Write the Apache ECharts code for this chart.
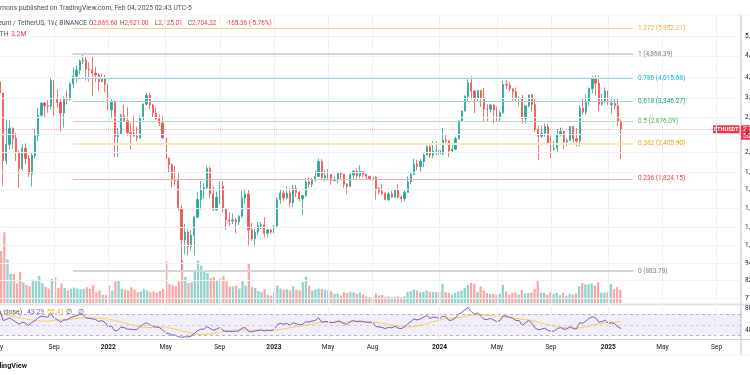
<!DOCTYPE html>
<html><head><meta charset="utf-8">
<script src="https://cdn.jsdelivr.net/npm/echarts@6/dist/echarts.min.js"></script>
<style>html,body{margin:0;padding:0;background:#fff}#c{width:750px;height:375px}</style>
</head><body><div id="c"></div>
<script>
// ---------- DATA ----------
const firstWeek = '2021-05-10';           // Monday of first weekly candle
// weekly candles [open, high, low, close]
const ohlc2021 = [
[3910,4372,3300,3580],[3580,3590,1728,2100],[2100,2911,2050,2390],[2390,2890,2300,2710],[2710,2740,2310,2510],
[2510,2620,2100,2250],[2250,2280,1700,1980],[1980,2400,1950,2320],[2320,2410,2040,2140],[2140,2200,1850,1900],
[1900,2250,1720,2190],[2190,2700,2150,2560],[2560,3180,2450,3010],[3010,3330,2980,3310],[3310,3340,2950,3240],
[3240,3380,3070,3230],[3230,4030,3150,3950],[3950,3970,3000,3410],[3410,3680,3200,3330],[3330,3440,2650,3060],
[3060,3490,2730,3420],[3420,3660,3270,3410],[3410,3900,3370,3850],[3850,4380,3720,4090],[4090,4460,3900,4290],
[4290,4670,4150,4610],[4610,4868,4500,4640],[4640,4770,3950,4320],[4320,4560,3920,4300],[4300,4780,3500,4190],
[4190,4400,3900,4130],[4130,4200,3640,3920],[3920,4180,3900,4060],[4060,4130,3600,3830]];
const ohlc2022 = [
[3830,3900,2930,3140],[3140,3410,2930,3330],[3330,3380,2160,2540],[2540,2720,2160,2600],[2600,3050,2580,3000],
[3000,3280,2850,2880],[2880,3200,2560,2620],[2620,2830,2300,2610],[2610,3000,2550,2550],[2550,2750,2450,2520],
[2520,3000,2500,2950],[2950,3300,2900,3280],[3280,3580,3250,3520],[3520,3580,3150,3260],[3260,3290,2950,3060],
[3060,3190,2900,2920],[2920,3030,2760,2830],[2830,3000,2500,2520],[2520,2530,1700,2140],[2140,2160,1910,2040],
[2040,2060,1700,1810],[1810,2020,1730,1800],[1800,1920,1420,1450],[1450,1480,880,1130],[1130,1280,1010,1200],
[1200,1230,1000,1070],[1070,1220,1040,1170],[1170,1360,1000,1350],[1350,1650,1340,1550],[1550,1790,1430,1680],
[1680,1760,1560,1700],[1700,2030,1680,1980],[1980,2010,1570,1620],[1620,1720,1420,1430],[1430,1650,1420,1580],
[1580,1790,1500,1720],[1720,1790,1400,1440],[1440,1450,1220,1320],[1320,1400,1260,1310],[1310,1390,1280,1320],
[1320,1340,1190,1300],[1300,1370,1270,1360],[1360,1660,1340,1570],[1570,1680,1500,1620],[1620,1680,1070,1220],
[1220,1290,1120,1140],[1140,1230,1070,1200],[1200,1300,1170,1260],[1260,1300,1230,1270],[1270,1350,1150,1190],
[1190,1230,1150,1220],[1220,1230,1180,1200]];
const ohlc2023 = [
[1200,1270,1190,1260],[1260,1580,1250,1550],[1550,1680,1500,1630],[1630,1670,1530,1570],[1570,1720,1550,1630],
[1630,1690,1460,1510],[1510,1740,1460,1690],[1690,1740,1580,1640],[1640,1660,1530,1560],[1560,1570,1370,1600],
[1600,1840,1580,1780],[1780,1850,1700,1750],[1750,1840,1710,1810],[1810,1950,1780,1860],[1860,2140,1850,2090],
[2090,2130,1810,1840],[1840,1960,1790,1870],[1870,1970,1800,1890],[1890,1890,1740,1800],[1800,1860,1790,1810],
[1810,1930,1760,1910],[1910,1930,1830,1890],[1890,1900,1700,1750],[1750,1760,1620,1720],[1720,1930,1710,1880],
[1880,1950,1820,1940],[1940,1980,1820,1870],[1870,2030,1830,1930],[1930,1940,1850,1890],[1890,1900,1820,1860],
[1860,1870,1820,1830],[1830,1860,1820,1850],[1850,1860,1550,1690],[1690,1710,1620,1650],[1650,1750,1610,1630],
[1630,1650,1540,1550],[1550,1650,1530,1620],[1620,1660,1570,1580],[1580,1680,1570,1670],[1670,1750,1560,1580],
[1580,1600,1520,1560],[1560,1680,1530,1640],[1640,1860,1640,1780],[1780,1910,1750,1890],[1890,2140,1880,2050],
[2050,2120,1950,2010],[2010,2130,1930,2090],[2090,2230,2000,2200],[2200,2400,2200,2350],[2350,2380,2150,2200],
[2200,2450,2150,2270],[2270,2450,2200,2280]];
const ohlc2024 = [
[2280,2410,2100,2220],[2220,2720,2200,2470],[2470,2600,2420,2460],[2460,2470,2160,2270],[2270,2390,2240,2300],
[2300,2540,2280,2500],[2500,2890,2480,2880],[2880,3130,2860,3110],[3110,3520,3100,3490],[3490,3990,3350,3880],
[3880,4093,3400,3640],[3640,3650,3060,3450],[3450,3680,3350,3650],[3650,3660,3210,3450],[3450,3730,2850,3160],
[3160,3280,2860,3150],[3150,3290,3070,3260],[3260,3290,2820,3130],[3130,3220,2860,2940],[2940,3130,2860,3070],
[3070,3950,3050,3830],[3830,3970,3680,3810],[3810,3890,3620,3700],[3700,3720,3360,3620],[3620,3740,3360,3420],
[3420,3490,3240,3440],[3440,3530,2810,2930],[2930,3250,2820,3240],[3240,3540,3200,3530],[3530,3560,3090,3270],
[3270,3400,2630,2690],[2690,2770,2110,2550],[2550,2780,2510,2610],[2610,2820,2540,2750],[2750,2820,2420,2430],
[2430,2560,2150,2300],[2300,2460,2270,2320],[2320,2700,2260,2580],[2580,2730,2550,2650],[2650,2670,2310,2440],
[2440,2510,2350,2470],[2470,2760,2460,2750],[2750,2770,2430,2500],[2500,2720,2360,2460],[2460,3250,2350,3180],
[3180,3450,3020,3080],[3080,3550,3020,3360],[3360,3740,3250,3710],[3710,4090,3580,4000],[4000,4110,3520,3870],
[3870,4110,3100,3280],[3280,3550,3250,3350],[3350,3750,3310,3640]];
const ohlc2025 = [
[3640,3740,3150,3270],[3270,3470,3050,3300],[3300,3450,3150,3240],[3240,3440,2760,2869.68],[2869.68,2921.00,2125.01,2704.32]];

// weekly volume, millions of ETH
const vol2021 = [12.5,17.0,10.5,7.0,7.0,4.7,7.5,5.0,4.3,4.0,5.6,5.2,6.5,4.8,3.9,3.5,5.8,6.2,3.6,4.7,3.6,3.0,3.4,3.7,3.5,3.3,3.4,3.8,3.4,4.4,2.6,3.0,2.0,1.9];
const vol2022 = [4.2,3.0,5.2,5.5,3.4,3.2,3.0,3.8,3.2,2.6,2.8,3.3,3.0,2.6,2.8,2.5,2.9,3.4,10.0,4.5,4.3,4.0,5.2,10.4,6.3,4.8,5.0,7.8,10.2,9.0,7.5,7.2,6.0,6.3,5.5,6.0,6.5,5.2,4.0,4.0,4.2,3.5,5.5,4.2,9.5,3.8,3.6,2.9,2.6,3.3,2.0,1.8];
const vol2023 = [2.5,4.2,3.5,3.2,3.3,3.0,4.0,3.2,3.0,5.0,6.3,4.2,3.0,3.3,3.5,3.4,3.2,3.0,2.8,2.2,2.2,1.8,2.6,2.4,2.7,2.6,2.2,2.5,2.0,1.6,1.4,1.3,2.3,1.8,1.9,1.5,1.6,1.4,1.5,1.6,1.4,1.6,2.7,2.8,3.2,3.0,2.6,2.7,3.0,2.7,2.6,2.6];
const vol2024 = [2.7,4.6,2.6,2.4,2.0,2.4,2.8,3.0,3.6,4.4,4.8,4.6,2.7,4.0,3.0,2.4,2.2,2.2,2.0,2.3,4.4,2.8,2.0,2.4,2.5,2.0,3.1,2.3,2.4,2.5,3.4,5.5,2.5,2.4,2.0,2.6,2.2,2.4,1.9,2.4,1.8,2.2,2.0,2.3,4.0,4.8,4.5,4.5,4.7,4.2,5.0,2.5,2.5];
const vol2025 = [2.6,4.6,3.4,3.8,3.2];

const rsi2021 = [76,58,60,63,59,55,51,55,53,49,54,58,63,66,65,64,71,62,60,55,59,59,63,65,67,69,69,63,62,61,60,56,58,54];
const rsi2022 = [46,48,39,40,46,45,42,42,41,41,47,51,54,50,48,46,45,41,35,34,31,31,28,27,28,27.5,29.5,34,39,42,42,47,43,40,42,45,40,38,38,38,38,39,44,45,38,37,38.5,40,40.5,39,40,39.5];
const rsi2023 = [41,50,53,51,53,49,54,52,50,51,56,55,57,58,63,55,56,56,54,54.5,57,56,52,51,56,58,56,57,56,55,54.5,55,47,46,45,43,45.5,44.5,47.5,44,43,46,52,56,61,59,61,64,67,62,64,64];
const rsi2024 = [61,66,65,58,59,63,70,73,78,82,74,70,72,66,60,60,62,59,56,58,67,66,64,62,58,58,49,54,58,53,44,41,42,44,40,38,38.5,43,45,42,42.5,47,43,42.5,54,53,57,62,65,63,55,56,59];
const rsi2025 = [53,53.5,52.5,46,43.29];
const ma2021 = [70,69,68,67,66,65,63,62,61,60,59,58,57.5,57,57,57,57.5,58,58.5,59,59.5,60,60.5,61,61.5,62,62.5,63,63,63,63,62.5,62,61.5];
const ma2022 = [60.5,59.5,58,56.5,55,53.5,52,50.5,49,47.5,46.5,45.5,45,45,45,45.5,46,46,45.5,44.5,43.5,42,40.5,39,37.5,36,34.5,33.5,33,32.5,32.5,33,33.5,34.5,35.5,36.5,37.5,38.5,39.5,40,40.5,40.5,40.5,40.5,40.5,40,40,40,40,40,40,40];
const ma2023 = [40,40.5,41.5,42.5,43.5,44.5,45.5,46.5,47.5,48.5,49.5,50.5,51.5,52.5,53.5,54,54.5,54.5,54.5,54.5,55,55,55,55,55,55.5,55.5,55.5,55.5,55.5,55.5,55,54.5,54,53,52,51,50,49,48,47.5,47,46.5,46.5,47,48,49.5,51,52.5,54,55.5,57];
const ma2024 = [58.5,60,61.5,62,62.5,63,64,65,66,67,67.5,68,68.5,68.5,68,67.5,67,66.5,66,65,64.5,64,63.5,63,62,61,60,59.5,59,58,56.5,55,53.5,52,50.5,49,47.5,46.5,46,45.5,45,44.5,44,44,44.5,45.5,46.5,48,49.5,51,52,53,54];
const ma2025 = [54.5,55,55.3,55.4,55.41];

// Fibonacci retracement drawing
const fibRatios = ['1.272','1','0.786','0.618','0.5','0.382','0.236','0'];
const fibPrices = [5952.21,4868.39,4015.68,3346.27,2876.09,2405.90,1824.15,883.78];
const fibSpan = ['2021-10-17','2025-03-01'];

// axis tick labels
const priceTicks = [5600,4800,4050,3450,2950,2600,2250,1925,1675,1450,1250,1080,940,820,715];
const monthLabels = ['May','Sep','2022','May','Sep','2023','May','Aug','2024','May','Sep','2025','May','Sep'];
const monthDates = ['2021-05-03','2021-09-06','2022-01-03','2022-05-09','2022-09-05','2023-01-02','2023-05-01','2023-08-07','2024-01-01','2024-05-06','2024-09-02','2025-01-06','2025-05-05','2025-09-01'];
const rsiTicks = [80,40];

// ---------- BUILD ----------
const DAY = 86400000;
const t0 = Date.parse(firstWeek + 'T00:00:00Z');
const ohlc = [].concat(ohlc2021, ohlc2022, ohlc2023, ohlc2024, ohlc2025);
const volume = [].concat(vol2021, vol2022, vol2023, vol2024, vol2025);
const rsi = [].concat(rsi2021, rsi2022, rsi2023, rsi2024, rsi2025);
const rsiMa = [].concat(ma2021, ma2022, ma2023, ma2024, ma2025);
const weeks = ohlc.map((_, i) => t0 + i * 7 * DAY);
const ts = s => Date.parse(s + 'T00:00:00Z');

const PX_PER_DAY = 3.185 / 7;
const GRID_W = 741;
const xMin = t0, xMax = t0 + GRID_W / PX_PER_DAY * DAY;

const UP = '#26A69A', DOWN = '#EF5350';
const FONT = 'Roboto, "Noto Sans", sans-serif';
const last = ohlc[ohlc.length - 1];
const lastClose = last[3];

const fibLine = ['#FFCF85','#D3D5DA','#8FDCE8','#A3D8CD','#B3DDB4','#FFE6C2','#F8ABB1','#D3D5DA'];
const fibWidth = [1,2,1,1,1,2,1,2];
const fibText = ['#F7A93B','#787B86','#00BCD4','#089981','#4CAF50','#FF9800','#F23645','#787B86'];
const fmt = v => v.toLocaleString('en-US', {minimumFractionDigits: 2, maximumFractionDigits: 2});

const chart = echarts.init(document.getElementById('c'), null, {renderer: 'canvas'});

const xAx = gi => ({gridIndex: gi, type: 'time', min: xMin, max: xMax, show: false});

const vGrid = monthDates.map(d => ({xAxis: ts(d), label: {show: false}}));

chart.setOption({
  animation: false,
  backgroundColor: '#ffffff',
  grid: [
    {left: 0, top: 15, width: GRID_W, height: 290},
    {left: 0, top: 200, width: GRID_W, height: 103},
    {left: 0, top: 305, width: GRID_W, height: 34}
  ],
  xAxis: [xAx(0), xAx(1), xAx(2)],
  yAxis: [
    {gridIndex: 0, type: 'log', min: 676.6, max: 6615, show: false},
    {gridIndex: 1, type: 'value', min: 0, max: 24.76, show: false},
    {gridIndex: 2, type: 'value', min: 23.9, max: 86.6, show: false}
  ],
  series: [
    { // price-pane grid + right scale labels
      type: 'line', xAxisIndex: 0, yAxisIndex: 0, data: [], z: 0,
      markLine: {
        silent: true, symbol: ['none','none'], animation: false,
        lineStyle: {color: '#EFF1F5', width: 1, type: 'solid'},
        label: {show: false},
        data: priceTicks.map(p => ({yAxis: p, label: {show: true, position: 'end', distance: 4,
          formatter: () => fmt(p), color: '#131722', fontSize: 6.5, fontFamily: FONT}})).concat(vGrid)
      }
    },
    {
      type: 'bar', xAxisIndex: 1, yAxisIndex: 1, barWidth: 2.3, z: 1,
      data: weeks.map((t, i) => ({value: [t, volume[i]],
        itemStyle: {color: ohlc[i][3] >= ohlc[i][0] ? 'rgba(38,166,154,0.5)' : 'rgba(239,83,80,0.5)'}}))
    },
    {
      type: 'candlestick', xAxisIndex: 0, yAxisIndex: 0, barWidth: 1.7, z: 3,
      itemStyle: {color: UP, color0: DOWN, borderColor: UP, borderColor0: DOWN, borderWidth: 0.8},
      data: weeks.map((t, i) => [t, ohlc[i][0], ohlc[i][3], ohlc[i][2], ohlc[i][1]]),
      markLine: {
        silent: true, symbol: ['none','none'], animation: false,
        data: fibPrices.map((p, k) => [
          {coord: [ts(fibSpan[0]), p],
           lineStyle: {color: fibLine[k], width: fibWidth[k], type: 'solid'},
           label: {show: true, position: 'end', distance: 5, color: fibText[k], fontSize: 6.5, fontFamily: FONT,
                   formatter: () => fibRatios[k] + ' (' + fmt(p) + ')'}},
          {coord: [ts(fibSpan[1]), p]}
        ]).concat([{yAxis: lastClose, lineStyle: {color: 'rgba(242,54,69,0.4)', width: 1, type: 'dotted'}, label: {show: false}}])
      }
    },
    {
      type: 'line', xAxisIndex: 2, yAxisIndex: 2, z: 3, showSymbol: false, symbol: 'none',
      lineStyle: {color: '#7E57C2', width: 1},
      data: weeks.map((t, i) => [t, rsi[i]]),
      markArea: {silent: true, itemStyle: {color: 'rgba(126,87,194,0.10)'}, data: [[{yAxis: 30}, {yAxis: 70}]]},
      markLine: {
        silent: true, symbol: ['none','none'], animation: false, label: {show: false},
        data: [
          {yAxis: 70, lineStyle: {color: '#A3A6AF', width: 0.8, type: [3,3]}},
          {yAxis: 50, lineStyle: {color: '#C3C5CB', width: 0.8, type: [3,3]}},
          {yAxis: 30, lineStyle: {color: '#A3A6AF', width: 0.8, type: [3,3]}}
        ].concat(monthDates.map(d => ({xAxis: ts(d), lineStyle: {color: '#EFF1F5', width: 1, type: 'solid'}})))
         .concat(rsiTicks.map(v => ({yAxis: v, lineStyle: {color: 'rgba(0,0,0,0)', width: 0},
           label: {show: true, position: 'end', distance: 4, formatter: () => String(v), color: '#131722', fontSize: 6.5, fontFamily: FONT}})))
      }
    },
    {
      type: 'line', xAxisIndex: 2, yAxisIndex: 2, z: 2, showSymbol: false, symbol: 'none',
      lineStyle: {color: '#F5D14A', width: 1},
      data: weeks.map((t, i) => [t, rsiMa[i]])
    }
  ]
});

// ---------- overlay texts / frame ----------
const g = [];
const txt = (x, y, s, o) => g.push(Object.assign({type: 'text', x: x, y: y, silent: true,
  style: Object.assign({text: s, fontSize: 6.8, fontFamily: FONT, fill: '#131722', textVerticalAlign: 'middle'}, o || {})}));
const line = (x1, y1, x2, y2, c, w) => g.push({type: 'line', silent: true, shape: {x1, y1, x2, y2}, style: {stroke: c, lineWidth: w}});

line(0, 15, 750, 15, '#EFF1F5', 1);
line(0, 304.5, 750, 304.5, '#E0E3EB', 2);
line(0, 339.5, 750, 339.5, '#D1D4DC', 1.2);
line(0, 355, 750, 355, '#EFF1F5', 1);
line(741, 15, 741, 355, '#D1D4DC', 1.5);

// x-axis labels
monthDates.forEach((d, k) => {
  const x = chart.convertToPixel({xAxisIndex: 2}, ts(d));
  const isYear = /^\d{4}$/.test(monthLabels[k]);
  txt(x, 347.5, monthLabels[k], {textAlign: 'center', fontSize: 6.6, fontWeight: isYear ? 'bold' : 'normal'});
});

// header
const HF = 6.3;
txt(0, 8, 'mons published on TradingView.com, Feb 04, 2025 02:43 UTC-5', {fill: '#4A4E59'});
txt(87, 23.5, 'Ethereum / TetherUS, 1W, BINANCE', {textAlign: 'right', fill: '#4A4E59', fontSize: 6.6});
const red = '#F23645';
[['O', 89, last[0]], ['H', 120, last[1]], ['L', 155, last[2]], ['C', 188, last[3]]].forEach(([k, x, v]) => {
  txt(x, 23.5, '{a|' + k + '}{b|' + fmt(v) + '}', {rich: {a: {fill: '#4A4E59', fontSize: HF, fontFamily: FONT}, b: {fill: red, fontSize: HF, fontFamily: FONT}}});
});
const chg = last[3] - ohlc[ohlc.length - 2][3];
txt(226, 23.5, fmt(chg) + ' (' + (chg / ohlc[ohlc.length - 2][3] * 100).toFixed(2) + '%)', {fill: red, fontSize: HF});
txt(8.5, 34, 'Vol · ETH', {textAlign: 'right', fill: '#4A4E59'});
txt(11, 34, (volume[volume.length - 1]).toFixed(1) + 'M', {fill: red});

// RSI legend
txt(22, 312, 'RSI (14, close)', {textAlign: 'right', fill: '#4A4E59'});
txt(27, 312, rsi[rsi.length - 1].toFixed(2), {fill: '#7E57C2'});
txt(47, 312, rsiMa[rsiMa.length - 1].toFixed(2), {fill: '#E8B923'});
txt(66, 312, '∅', {fill: '#4A4E59'});
txt(78, 312, '∅', {fill: '#4A4E59'});

// bottom logo text
txt(27, 366, 'TradingView', {textAlign: 'right', fontWeight: 'bold', fontSize: 7.2, fill: '#131722'});

// last price tags
const yp = chart.convertToPixel({yAxisIndex: 0}, lastClose);
g.push({type: 'rect', silent: true, shape: {x: 713, y: yp - 3.5, width: 26.5, height: 8}, style: {fill: red}});
txt(726.2, yp + 0.5, 'ETHUSDT', {textAlign: 'center', fill: '#fff', fontSize: 5.6, fontWeight: 'bold'});
g.push({type: 'rect', silent: true, shape: {x: 741, y: yp - 3.5, width: 12, height: 14.5}, style: {fill: red}});
txt(743, yp + 0.5, fmt(lastClose), {fill: '#fff', fontSize: 6.5});
txt(743, yp + 7.5, '5d 21h', {fill: '#fff', fontSize: 6.5});

chart.setOption({graphic: g});
</script>
</body></html>
